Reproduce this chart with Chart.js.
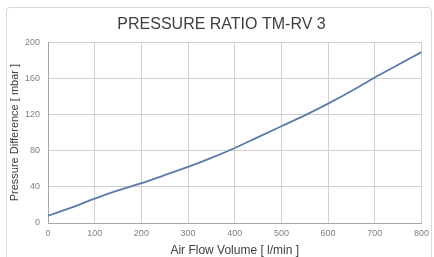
<!DOCTYPE html>
<html>
<head>
<meta charset="utf-8">
<script src="https://cdn.jsdelivr.net/npm/chart.js@4.4.1/dist/chart.umd.min.js"></script>
<style>
  html, body { margin: 0; padding: 0; background: #fff; }
  #wrap { position: relative; width: 434px; height: 257px; }
  #frame {
    position: absolute; left: 6px; top: 7px; width: 426px; height: 254px;
    border: 1px solid #d9d9d9; border-radius: 4px; box-sizing: border-box;
  }
  canvas { position: absolute; left: 0; top: 0; }
</style>
</head>
<body>
<div id="wrap">
  <div id="frame"></div>
  <canvas id="chart" width="434" height="257"></canvas>
</div>
<script>
// Air flow volume [l/min] and pressure difference [mbar]
const flow = [0, 50, 100, 150, 200, 250, 300, 350, 400, 450, 500, 550, 600, 650, 700, 750, 800];
const pressure = [8, 17, 27, 36, 44, 53, 62, 72, 83, 95, 107, 119, 132, 146, 161, 175, 189];

const xTicks = [0, 100, 200, 300, 400, 500, 600, 700, 800];
const yTicks = [0, 40, 80, 120, 160, 200];

const ctx = document.getElementById('chart').getContext('2d');
const chart = new Chart(ctx, {
  type: 'line',
  data: {
    datasets: [{
      label: 'Pressure',
      data: flow.map((f, i) => ({ x: f, y: pressure[i] })),
      borderColor: '#5b7bab',
      borderWidth: 1.8,
      pointRadius: 0,
      cubicInterpolationMode: 'monotone',
      fill: false
    }]
  },
  options: {
    responsive: false,
    animation: false,
    layout: { padding: { left: 18, right: 9, top: 0, bottom: 0 } },
    plugins: {
      legend: { display: false },
      tooltip: { enabled: false },
      title: {
        display: true,
        text: 'PRESSURE RATIO TM-RV 3',
        color: '#404040',
        font: { family: 'Arial, Liberation Sans', size: 16, weight: 'normal' },
        padding: { top: 15, bottom: 8 }
      }
    },
    scales: {
      x: {
        type: 'linear',
        min: 0,
        max: 800,
        afterBuildTicks: s => { s.ticks = xTicks.map(v => ({ value: v })); },
        afterFit: s => { s.height = 34; },
        ticks: {
          color: '#808080',
          font: { family: 'Arial, Liberation Sans', size: 9 },
          padding: 5
        },
        grid: { color: '#d0d0d0', drawTicks: false },
        border: { color: '#a6a6a6' },
        title: {
          display: true,
          text: 'Air Flow Volume [ l/min ]',
          color: '#404040',
          font: { family: 'Arial, Liberation Sans', size: 12 },
          padding: { top: 0, bottom: -1 }
        }
      },
      y: {
        type: 'linear',
        min: 0,
        max: 200,
        afterBuildTicks: s => { s.ticks = yTicks.map(v => ({ value: v })); },
        afterFit: s => { s.width = 30; },
        ticks: {
          color: '#808080',
          font: { family: 'Arial, Liberation Sans', size: 9 },
          padding: 8
        },
        grid: { color: '#d0d0d0', drawTicks: false },
        border: { color: '#a6a6a6' },
        title: {
          display: true,
          text: 'Pressure Difference [ mbar ]',
          color: '#404040',
          font: { family: 'Arial, Liberation Sans', size: 11 },
          padding: { top: -10, bottom: 0 }
        }
      }
    }
  }
});
</script>
</body>
</html>
